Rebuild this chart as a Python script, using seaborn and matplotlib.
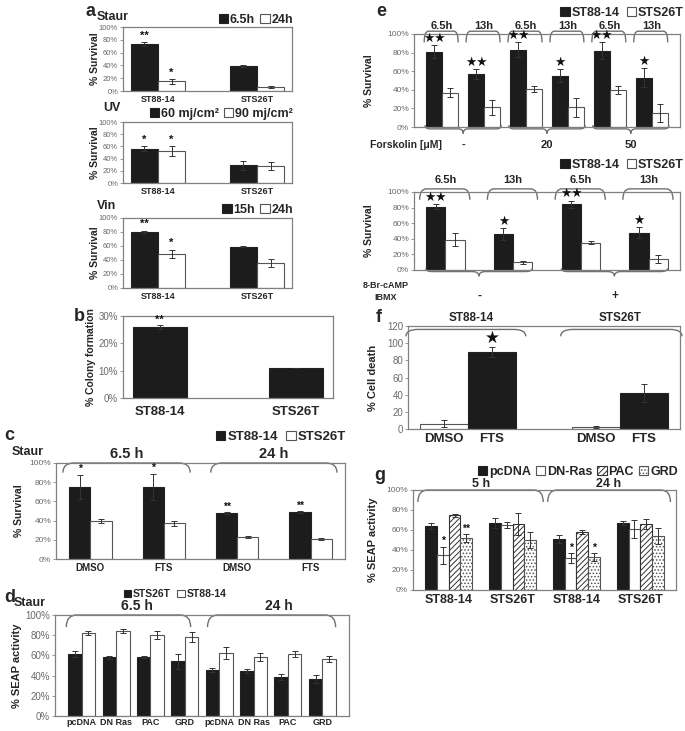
import numpy as np
import pandas as pd
import matplotlib
matplotlib.use('Agg')
import matplotlib.pyplot as plt
import matplotlib.transforms as mtrans
from matplotlib.path import Path
from matplotlib.patches import PathPatch, Patch
from matplotlib.container import BarContainer
from matplotlib.ticker import FuncFormatter
import seaborn as sns

# --- data ---
# a: survival after Staur / UV / Vin
a_cells = ['ST88-14', 'STS26T']
staur_65 = [73, 39]
staur_65_err = [3, 1]
staur_24 = [15, 6]
staur_24_err = [4, 2]
uv_60 = [56, 29]
uv_60_err = [4, 7]
uv_90 = [53, 28]
uv_90_err = [8, 7]
vin_15 = [80, 59]
vin_15_err = [2, 1]
vin_24 = [49, 36]
vin_24_err = [6, 6]

# b: colony formation
colony = [26, 11]
colony_err = [0.7, 0]

# c: Staur + DMSO/FTS
c_treat = ['DMSO', 'FTS', 'DMSO', 'FTS']
c_st88 = [75, 75, 48, 49]
c_st88_err = [13, 14, 1, 1]
c_sts = [40, 37, 23, 21]
c_sts_err = [2, 3, 1, 1]
c_stars = ['*', '*', '**', '**']

# d: SEAP activity
d_constructs = ['pcDNA', 'DN Ras', 'PAC', 'GRD', 'pcDNA', 'DN Ras', 'PAC', 'GRD']
d_sts = [61, 58, 58, 54, 46, 45, 39, 37]
d_sts_err = [3, 1.5, 1, 7, 2, 2, 3, 4]
d_st88 = [82, 84, 80, 78, 62, 58, 61, 56]
d_st88_err = [2, 2, 4, 5, 6, 4, 3, 3]

# e (top): forskolin
e1_times = ['6.5h', '13h', '6.5h', '13h', '6.5h', '13h']
e1_forsk = ['-', '20', '50']
e1_st88 = [81, 57, 83, 55, 82, 53]
e1_st88_err = [7, 5, 8, 7, 9, 10]
e1_sts = [37, 21, 41, 21, 40, 15]
e1_sts_err = [5, 8, 3, 10, 4, 10]
e1_stars = ['★★', '★★', '★★', '★', '★★', '★']

# e (bottom): 8-Br-cAMP + IBMX
e2_times = ['6.5h', '13h', '6.5h', '13h']
e2_treat = ['-', '+']
e2_st88 = [81, 46, 84, 48]
e2_st88_err = [3, 8, 5, 7]
e2_sts = [39, 10, 35, 14]
e2_sts_err = [8, 2, 2, 5]
e2_stars = ['★★', '★', '★★', '★']

# f: cell death
f_cells = ['ST88-14', 'STS26T']
f_dmso = [6, 2]
f_dmso_err = [4, 1]
f_fts = [90, 42]
f_fts_err = [6, 11]

# g: SEAP activity, 5 h / 24 h
g_cells = ['ST88-14', 'STS26T', 'ST88-14', 'STS26T']
g_times = ['5 h', '24 h']
g_pcdna = [64, 67, 51, 67]
g_pcdna_err = [3, 5, 4, 2]
g_dnras = [35, 65, 32, 61]
g_dnras_err = [8.5, 3, 5, 9]
g_pac = [75, 66, 58, 66]
g_pac_err = [1.5, 11, 2, 5]
g_grd = [52, 50, 33, 54]
g_grd_err = [4, 8, 4, 8]
g_stars_dnras = ['*', '', '*', '']
g_stars_grd = ['**', '', '*', '']

# --- style ---
sns.set_theme(style='white')
plt.rcParams['font.family'] = ['Liberation Sans', 'DejaVu Sans']
plt.rcParams['hatch.linewidth'] = 0.7
plt.rcParams['hatch.color'] = '#333333'

W, H = 685, 731
fig = plt.figure(figsize=(W / 100, H / 100), dpi=100)

BLACK = '#1c1c1c'
WHITE = '#ffffff'
EDGE_B = '#222222'
EDGE_W = '#555555'
LINE = '#808080'


def px_axes(l, t, r, b):
    return fig.add_axes([l / W, 1 - b / H, (r - l) / W, (b - t) / H])


def ftext(x, y, s, size, ha='left'):
    fig.text(x / W, 1 - y / H, s, fontsize=size, fontweight='bold', ha=ha, va='center')


def htext(ax, x, y_px, s, size):
    tr = mtrans.blended_transform_factory(ax.transData, fig.transFigure)
    ax.text(x, 1 - y_px / H, s, transform=tr, fontsize=size, fontweight='bold',
            ha='center', va='center')


def draw_bars(ax, keys, names, values, errors, colors, edges, width, hatches=None, cap=2):
    rows = [(k, n, v) for n, vals in zip(names, values) for k, v in zip(keys, vals)]
    df = pd.DataFrame(rows, columns=['key', 'series', 'value'])
    sns.barplot(data=df, x='key', y='value', hue='series', order=keys, hue_order=names,
                palette=dict(zip(names, colors)), width=width, errorbar=None,
                saturation=1, legend=False, linewidth=0.8, ax=ax)
    conts = [c for c in ax.containers if isinstance(c, BarContainer)]
    centers = []
    for i, cont in enumerate(conts):
        xs = [p.get_x() + p.get_width() / 2 for p in cont]
        for p in cont:
            p.set_edgecolor(edges[i])
            if hatches and hatches[i]:
                p.set_hatch(hatches[i])
        ax.errorbar(xs, values[i], yerr=errors[i], fmt='none', ecolor='#333333',
                    elinewidth=0.7, capsize=cap, capthick=0.7)
        centers.append(xs)
    return centers


def stars(ax, xs, vals, errs, marks, size, pad=2):
    for x, v, e, m in zip(xs, vals, errs, marks):
        if m:
            ax.text(x, v + e + pad, m, ha='center', va='bottom', fontsize=size,
                    fontweight='bold', color='#111111')


def style(ax, ymax, step, label, label_size=7.5, tick_size=5.5, xlabels=None, xsize=7,
          pct=True, label_x=None, xpad=3):
    ax.set_ylim(0, ymax)
    ax.set_yticks(np.arange(0, ymax + 0.1, step))
    if pct:
        ax.yaxis.set_major_formatter(FuncFormatter(lambda v, _: f'{v:.0f}%'))
    ax.tick_params(axis='y', left=True, labelsize=tick_size, labelcolor='#6a6a6a',
                   color='#888888', length=2.5, width=0.6, pad=1)
    ax.tick_params(axis='x', bottom=False, length=0, labelsize=xsize, pad=xpad)
    ax.set_xlabel('')
    ax.set_ylabel(label, fontsize=label_size, fontweight='bold', labelpad=2)
    if label_x is not None:
        pos = ax.get_position()
        ax.yaxis.set_label_coords((label_x / W - pos.x0) / pos.width, 0.5)
    for s in ax.spines.values():
        s.set_color(LINE)
        s.set_linewidth(0.9)
    if xlabels is not None:
        ax.set_xticklabels(xlabels, fontweight='bold')
    else:
        ax.set_xticklabels([])


def bracket(ax, x0, x1, y, dy, rx):
    verts = [(x0, y - dy), (x0, y), (x0 + rx, y), (x1 - rx, y), (x1, y), (x1, y - dy)]
    codes = [Path.MOVETO, Path.CURVE3, Path.CURVE3, Path.LINETO, Path.CURVE3, Path.CURVE3]
    ax.add_patch(PathPatch(Path(verts, codes), fill=False, ec='#707070', lw=1.0,
                           clip_on=False))


def underbrace(ax, x0, x1, y, h_end, h_tip, rx):
    xm = (x0 + x1) / 2
    verts = [(x0, y + h_end), (x0, y), (x0 + rx, y), (xm - rx, y), (xm, y), (xm, y - h_tip),
             (xm, y), (xm + rx, y), (x1 - rx, y), (x1, y), (x1, y + h_end)]
    codes = [Path.MOVETO, Path.CURVE3, Path.CURVE3, Path.LINETO, Path.CURVE3, Path.CURVE3,
             Path.CURVE3, Path.CURVE3, Path.LINETO, Path.CURVE3, Path.CURVE3]
    ax.add_patch(PathPatch(Path(verts, codes), fill=False, ec='#707070', lw=1.0,
                           clip_on=False))


def legend(ax, labels, faces, edges, x_px, y_px, size, loc='center right', hatches=None,
           spacing=0.6):
    hatches = hatches or [None] * len(labels)
    handles = [Patch(facecolor=f, edgecolor=e, hatch=h, lw=0.8)
               for f, e, h in zip(faces, edges, hatches)]
    ax.legend(handles, labels, loc=loc, bbox_to_anchor=(x_px / W, 1 - y_px / H),
              bbox_transform=fig.transFigure, ncol=len(labels), frameon=False,
              handlelength=0.75, handleheight=0.75, handletextpad=0.15,
              columnspacing=spacing, borderaxespad=0, borderpad=0,
              prop={'weight': 'bold', 'size': size})


two = [BLACK, WHITE]
two_e = [EDGE_B, EDGE_W]

# ---------------- panel a ----------------
a_sets = [
    ('Staur', (27, 91), ['6.5h', '24h'], staur_65, staur_65_err, staur_24, staur_24_err,
     ['**', ''], ['*', ''], 17, 20, 0),
    ('UV', (122, 183), ['60 mj/cm²', '90 mj/cm²'], uv_60, uv_60_err, uv_90, uv_90_err,
     ['*', ''], ['*', ''], 108, 114, 6),
    ('Vin', (218, 288), ['15h', '24h'], vin_15, vin_15_err, vin_24, vin_24_err,
     ['**', ''], ['*', ''], 206, 210, 0),
]
for title, (t, b), names, v1, e1, v2, e2, s1, s2, ty, ly, tx in a_sets:
    ax = px_axes(123, t, 292, b)
    cx = draw_bars(ax, a_cells, names, [v1, v2], [e1, e2], two, two_e, 0.55)
    style(ax, 100, 20, '% Survival', xlabels=a_cells, xsize=6.5, label_x=100)
    stars(ax, cx[0], v1, e1, s1, 8)
    stars(ax, cx[1], v2, e2, s2, 8)
    legend(ax, names, two, two_e, 293, ly, 9, spacing=0.4)
    ftext(97 + tx, ty, title, 9)
ftext(86, 11, 'a', 13)

# ---------------- panel b ----------------
ax = px_axes(123, 316, 333, 398)
cx = draw_bars(ax, a_cells, ['colony'], [colony], [colony_err], [BLACK], [EDGE_B], 0.4)
style(ax, 30, 10, '% Colony formation', label_size=7.5, tick_size=7, xlabels=a_cells,
      xsize=9.5, label_x=96, xpad=6)
stars(ax, cx[0], colony, colony_err, ['**', ''], 8, pad=0.2)
ftext(74, 316, 'b', 13)

# ---------------- panel c ----------------
ax = px_axes(56, 463, 345, 559)
c_keys = [f'{t}{i}' for i, t in enumerate(c_treat)]
cx = draw_bars(ax, c_keys, ['ST88-14', 'STS26T'], [c_st88, c_sts], [c_st88_err, c_sts_err],
               two, two_e, 0.58)
style(ax, 100, 20, '% Survival', tick_size=6, xlabels=c_treat, xsize=7, label_x=24)
stars(ax, cx[0], c_st88, c_st88_err, c_stars, 7.5, pad=0.5)
bracket(ax, -0.375, 1.36, 100, 10, 0.15)
bracket(ax, 1.64, 3.36, 100, 10, 0.15)
htext(ax, 0.5, 454, '6.5 h', 10.5)
htext(ax, 2.5, 454, '24 h', 10.5)
legend(ax, ['ST88-14', 'STS26T'], two, two_e, 346, 437, 9.5)
ftext(4, 435, 'c', 13)
ftext(12, 452, 'Staur', 9)

# ---------------- panel d ----------------
ax = px_axes(55, 615, 349, 716)
d_keys = [f'{c}{i}' for i, c in enumerate(d_constructs)]
cx = draw_bars(ax, d_keys, ['STS26T', 'ST88-14'], [d_sts, d_st88], [d_sts_err, d_st88_err],
               two, two_e, 0.78)
style(ax, 100, 20, '% SEAP activity', label_size=8, tick_size=7, xlabels=d_constructs,
      xsize=6.5, xpad=1.5)
bracket(ax, -0.45, 3.17, 100, 12, 0.3)
bracket(ax, 3.66, 7.39, 100, 12, 0.3)
htext(ax, 1.6, 606, '6.5 h', 10)
htext(ax, 5.75, 606, '24 h', 10)
legend(ax, ['STS26T', 'ST88-14'], two, two_e, 175, 594, 7.5, loc='center')
ftext(4, 597, 'd', 13)
ftext(14, 603, 'Staur', 9)

# ---------------- panel e (top) ----------------
ax = px_axes(414, 34, 680, 127)
e1_keys = [f'{t}{i}' for i, t in enumerate(e1_times)]
cx = draw_bars(ax, e1_keys, ['ST88-14', 'STS26T'], [e1_st88, e1_sts],
               [e1_st88_err, e1_sts_err], two, two_e, 0.77)
style(ax, 100, 20, '% Survival', tick_size=6, label_x=374)
stars(ax, cx[0], e1_st88, e1_st88_err, e1_stars, 9, pad=0.5)
for i, t in enumerate(e1_times):
    bracket(ax, i - 0.43, i + 0.38, 103, 12, 0.1)
    htext(ax, i, 26, t, 8)
for j, lab in enumerate(e1_forsk):
    underbrace(ax, 2 * j - 0.41, 2 * j + 1.41, -2, 4, 5, 0.12)
    htext(ax, 2 * j + 0.5, 145, lab, 8)
legend(ax, ['ST88-14', 'STS26T'], two, two_e, 684, 13, 9)
ftext(376, 11, 'e', 13)
ftext(370, 145, 'Forskolin [μM]', 7.5)

# ---------------- panel e (bottom) ----------------
ax = px_axes(414, 192, 680, 270)
e2_keys = [f'{t}{i}' for i, t in enumerate(e2_times)]
cx = draw_bars(ax, e2_keys, ['ST88-14', 'STS26T'], [e2_st88, e2_sts],
               [e2_st88_err, e2_sts_err], two, two_e, 0.57)
style(ax, 100, 20, '% Survival', tick_size=6, label_x=374)
stars(ax, cx[0], e2_st88, e2_st88_err, e2_stars, 9, pad=0.5)
for i, t in enumerate(e2_times):
    bracket(ax, i - 0.38, i + 0.36, 104, 14, 0.1)
    htext(ax, i, 180, t, 8)
for j, lab in enumerate(e2_treat):
    underbrace(ax, 2 * j - 0.29, 2 * j + 1.28, -2, 4, 6, 0.1)
    htext(ax, 2 * j + 0.5, 296, lab, 8.5)
legend(ax, ['ST88-14', 'STS26T'], two, two_e, 684, 165, 9)
ftext(386, 285, '8-Br-cAMP', 6.5, ha='center')
ftext(386, 298, 'IBMX', 6.5, ha='center')

# ---------------- panel f ----------------
ax = px_axes(408, 326, 680, 429)
cx = draw_bars(ax, f_cells, ['DMSO', 'FTS'], [f_dmso, f_fts], [f_dmso_err, f_fts_err],
               [WHITE, BLACK], [EDGE_W, EDGE_B], 0.63)
style(ax, 120, 20, '% Cell death', label_size=8, tick_size=7, pct=False, label_x=378)
ticks = [cx[0][0], cx[1][0], cx[0][1], cx[1][1]]
ax.set_xticks(ticks)
ax.set_xticklabels(['DMSO', 'FTS', 'DMSO', 'FTS'], fontweight='bold', fontsize=9.5)
stars(ax, cx[1], f_fts, f_fts_err, ['★', ''], 12, pad=0.5)
bracket(ax, -0.41, 0.38, 116, 8, 0.08)
bracket(ax, 0.61, 1.41, 116, 8, 0.08)
htext(ax, 0.02, 318, 'ST88-14', 8.5)
htext(ax, 1.0, 318, 'STS26T', 8.5)
ftext(376, 318, 'f', 13)

# ---------------- panel g ----------------
ax = px_axes(413, 490, 676, 590)
g_keys = [f'{c}{i}' for i, c in enumerate(g_cells)]
g_names = ['pcDNA', 'DN-Ras', 'PAC', 'GRD']
g_vals = [g_pcdna, g_dnras, g_pac, g_grd]
g_errs = [g_pcdna_err, g_dnras_err, g_pac_err, g_grd_err]
g_faces = [BLACK, WHITE, WHITE, WHITE]
g_edges = [EDGE_B, EDGE_W, '#333333', EDGE_W]
g_hatch = [None, None, '//////', '.....']
cx = draw_bars(ax, g_keys, g_names, g_vals, g_errs, g_faces, g_edges, 0.74, hatches=g_hatch)
style(ax, 100, 20, '% SEAP activity', label_size=8, tick_size=6, xlabels=g_cells, xsize=9,
      label_x=378)
stars(ax, cx[1], g_dnras, g_dnras_err, g_stars_dnras, 7.5, pad=0.5)
stars(ax, cx[3], g_grd, g_grd_err, g_stars_grd, 7.5, pad=0.5)
bracket(ax, -0.48, 1.48, 100, 12, 0.15)
bracket(ax, 1.55, 3.47, 100, 12, 0.15)
htext(ax, 0.5, 484, g_times[0], 9)
htext(ax, 2.5, 484, g_times[1], 9)
legend(ax, g_names, g_faces, g_edges, 678, 472, 9, hatches=g_hatch, spacing=0.4)
ftext(374, 476, 'g', 13)

fig.savefig('out.png', dpi=100)
